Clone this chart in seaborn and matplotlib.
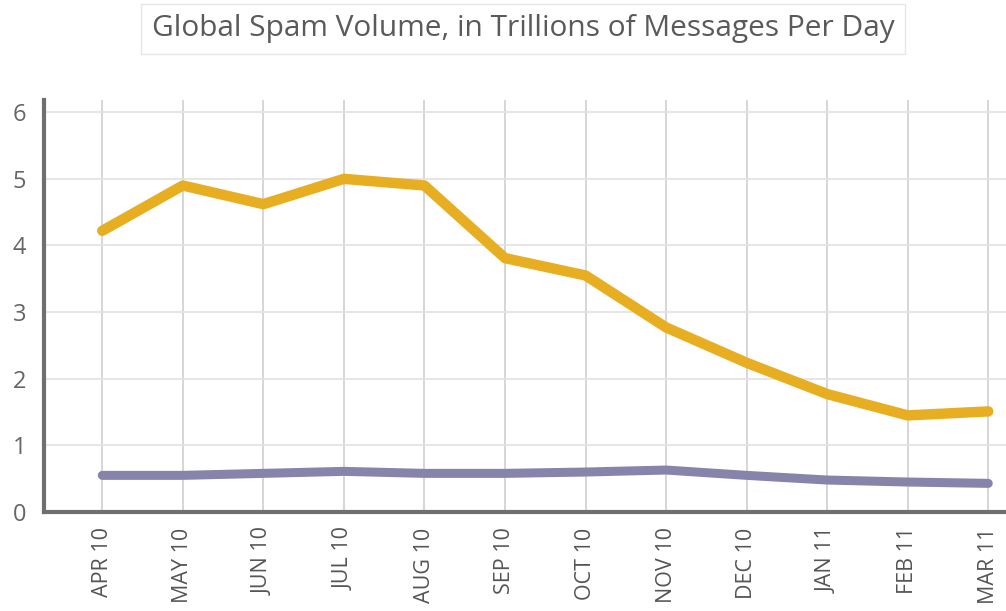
import matplotlib
matplotlib.use("Agg")
import matplotlib.pyplot as plt
import seaborn as sns
import pandas as pd

months = ["APR 10", "MAY 10", "JUN 10", "JUL 10", "AUG 10", "SEP 10",
          "OCT 10", "NOV 10", "DEC 10", "JAN 11", "FEB 11", "MAR 11"]
spam_total = [4.22, 4.9, 4.62, 5.0, 4.9, 3.81, 3.55, 2.77, 2.24, 1.77, 1.45, 1.51]
spam_low = [0.55, 0.55, 0.58, 0.61, 0.58, 0.58, 0.6, 0.63, 0.55, 0.48, 0.45, 0.43]

df = pd.DataFrame({"month": months, "total": spam_total, "low": spam_low})
df["idx"] = range(len(months))

sns.set_theme(style="white")
plt.rcParams["font.family"] = ["Open Sans", "DejaVu Sans"]

fig = plt.figure(figsize=(10.06, 6.11), dpi=100)
ax = fig.add_axes([0.044, 0.162, 0.956, 0.674])

sns.lineplot(data=df, x="idx", y="low", ax=ax, color="#8784ab", linewidth=6.5,
             solid_capstyle="round", solid_joinstyle="round", zorder=3)
sns.lineplot(data=df, x="idx", y="total", ax=ax, color="#e8ae22", linewidth=7.5,
             solid_capstyle="round", solid_joinstyle="round", zorder=4)

ax.set_xlim(-0.72, 11.22)
ax.set_ylim(0, 6.18)
ax.set_xticks(df["idx"])
ax.set_xticklabels(months, rotation=90, fontsize=15.5, color="#555555")
ax.set_yticks(range(7))
ax.set_yticklabels([str(i) for i in range(7)], fontsize=17, color="#666666")
ax.tick_params(axis="both", length=0)
ax.tick_params(axis="x", pad=11)
ax.tick_params(axis="y", pad=13)
ax.set_xlabel("")
ax.set_ylabel("")

ax.grid(True, axis="y", color="#e2e2e2", linewidth=1.2)
ax.grid(True, axis="x", color="#cfcfcf", linewidth=1.2)
ax.set_axisbelow(True)

for side in ["top", "right"]:
    ax.spines[side].set_visible(False)
for side in ["left", "bottom"]:
    ax.spines[side].set_color("#6f6f6f")
    ax.spines[side].set_linewidth(3)

fig.text(0.52, 0.953, "Global Spam Volume, in Trillions of Messages Per Day",
         ha="center", va="center", fontsize=21.5, color="#5a5a5a",
         bbox=dict(boxstyle="square,pad=0.35", facecolor="white",
                   edgecolor="#e6e6e6", linewidth=1))

fig.savefig("out.png", dpi=100)
